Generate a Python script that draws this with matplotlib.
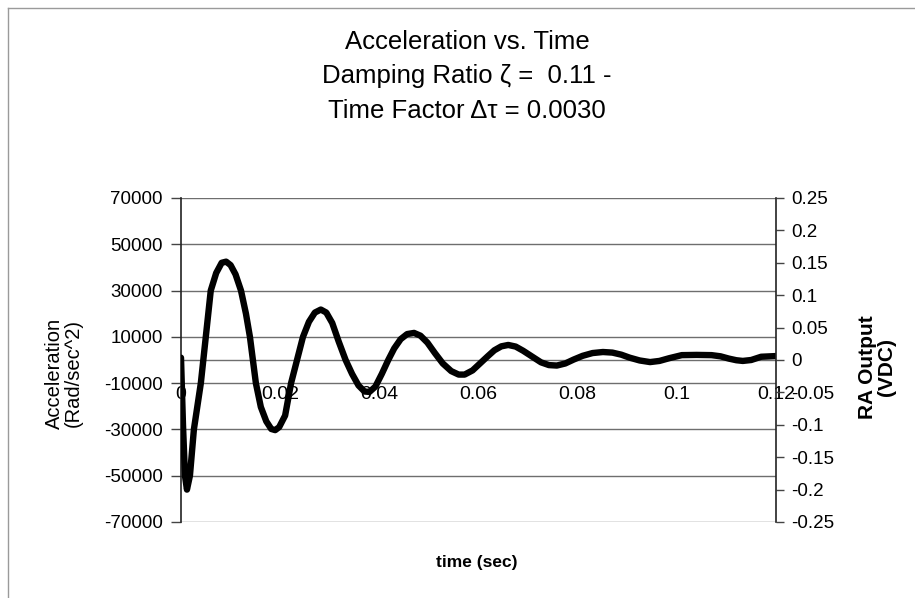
import matplotlib
matplotlib.use("Agg")
import matplotlib.pyplot as plt
from matplotlib.lines import Line2D

plt.rcParams['font.family'] = ['Liberation Sans', 'DejaVu Sans']

# ---- data ----
time_s = [0.0000, 0.0004, 0.0008, 0.0012, 0.0018, 0.0026, 0.0033, 0.0040, 0.0050, 0.0060,
          0.0071, 0.0082, 0.0091, 0.0100, 0.0110, 0.0121, 0.0131, 0.0139, 0.0151, 0.0161,
          0.0172, 0.0182, 0.0190, 0.0198, 0.0210, 0.0222, 0.0234, 0.0246, 0.0258, 0.0270,
          0.0282, 0.0293, 0.0305, 0.0318, 0.0332, 0.0345, 0.0358, 0.0370, 0.0380, 0.0392,
          0.0405, 0.0418, 0.0430, 0.0443, 0.0456, 0.0470, 0.0483, 0.0497, 0.0512, 0.0528,
          0.0545, 0.0560, 0.0572, 0.0588, 0.0603, 0.0618, 0.0632, 0.0646, 0.0660, 0.0675,
          0.0690, 0.0708, 0.0726, 0.0742, 0.0758, 0.0775, 0.0792, 0.0810, 0.0830, 0.0851,
          0.0870, 0.0888, 0.0905, 0.0925, 0.0946, 0.0965, 0.0985, 0.1010, 0.1040, 0.1070,
          0.1088, 0.1105, 0.1120, 0.1133, 0.1150, 0.1170, 0.1200]
accel = [1000, -28000, -50000, -56000, -50000, -30000, -20000, -10000, 10000, 30000,
         37600, 42000, 42500, 41000, 37000, 30000, 20000, 10000, -10000, -20300,
         -26500, -29800, -30300, -29000, -24000, -10000, 0, 10000, 16500, 20500,
         21800, 20500, 16000, 8000, 0, -6000, -11000, -13600, -13800, -11500,
         -6000, 0, 5000, 9000, 11200, 11700, 10500, 7500, 3000, -1500,
         -4800, -6300, -6300, -4500, -1500, 1500, 4200, 5900, 6500, 5800,
         4000, 1500, -1000, -2200, -2400, -1500, 200, 1800, 3000, 3450,
         3200, 2300, 1000, -200, -900, -400, 800, 2100, 2200, 2100,
         1600, 600, -100, -400, 0, 1400, 1700]

left_ticks = [70000, 50000, 30000, 10000, -10000, -30000, -50000, -70000]
right_ticks = [0.25, 0.2, 0.15, 0.1, 0.05, 0, -0.05, -0.1, -0.15, -0.2, -0.25]
right_labels = ["0.25", "0.2", "0.15", "0.1", "0.05", "0", "-0.05", "-0.1", "-0.15", "-0.2", "-0.25"]
x_ticks = [0, 0.02, 0.04, 0.06, 0.08, 0.1, 0.12]
x_labels = ["0", "0.02", "0.04", "0.06", "0.08", "0.1", "0.12"]

title = "Acceleration vs. Time\nDamping Ratio \u03b6 =  0.11 -\nTime Factor \u0394\u03c4 = 0.0030"

W, H = 915, 598
fig = plt.figure(figsize=(W / 100, H / 100), dpi=100)
fig.patch.set_facecolor("white")

L, R, T, B = 181, 776, 198, 522
ax = fig.add_axes([L / W, 1 - B / H, (R - L) / W, (B - T) / H])
ax.set_xlim(0, 0.12)
ax.set_ylim(-70000, 70000)

grid_c = "#6e6e6e"
for v in left_ticks:
    ax.axhline(v, color=grid_c, lw=1.0, zorder=1)
ax.axhline(0, color=grid_c, lw=1.0, zorder=1)

ax.plot(time_s, accel, color="black", lw=4.6, solid_joinstyle="round",
        solid_capstyle="round", zorder=3)

ax.set_yticks(left_ticks)
ax.set_yticklabels([str(v) for v in left_ticks])
ax.tick_params(axis="y", direction="out", length=7, width=1, color="#444444",
               labelsize=13.5, pad=6)

# x axis at zero
for s in ["top", "right"]:
    ax.spines[s].set_visible(False)
ax.spines["bottom"].set_position(("data", 0))
ax.spines["bottom"].set_visible(False)
ax.spines["left"].set_color("#222222")
ax.spines["left"].set_linewidth(1.2)
ax.set_xticks(x_ticks)
ax.set_xticklabels(x_labels)
ax.tick_params(axis="x", length=0, labelsize=14, pad=19)

ax2 = ax.twinx()
ax2.set_ylim(-0.25, 0.25)
ax2.set_yticks(right_ticks)
ax2.set_yticklabels(right_labels)
ax2.tick_params(axis="y", direction="out", length=6, width=1, color="#444444",
                labelsize=13.5, pad=5)
for s in ["top", "left", "bottom"]:
    ax2.spines[s].set_visible(False)
ax2.spines["right"].set_color("#222222")
ax2.spines["right"].set_linewidth(1.2)

fig.text(467 / W, 1 - 30 / H, title, ha="center", va="top", fontsize=18.5,
         linespacing=1.55)

fig.text(64 / W, 1 - 373 / H, "Acceleration\n(Rad/sec^2)", rotation=90,
         ha="center", va="center", fontsize=14.5, linespacing=1.0)
fig.text(877 / W, 1 - 367 / H, "RA Output\n(VDC)", rotation=90,
         ha="center", va="center", fontsize=15, fontweight="bold", linespacing=1.0)
fig.text(477 / W, 1 - 562 / H, "time (sec)", ha="center", va="center",
         fontsize=12.5, fontweight="bold")

# outer frame (left and top edges)
fig.add_artist(Line2D([8 / W, 8 / W], [0, 1 - 8 / H], transform=fig.transFigure,
                      color="#9a9a9a", lw=1))
fig.add_artist(Line2D([8 / W, 1], [1 - 8 / H, 1 - 8 / H], transform=fig.transFigure,
                      color="#9a9a9a", lw=1))

fig.savefig("out.png", dpi=100, facecolor="white")
